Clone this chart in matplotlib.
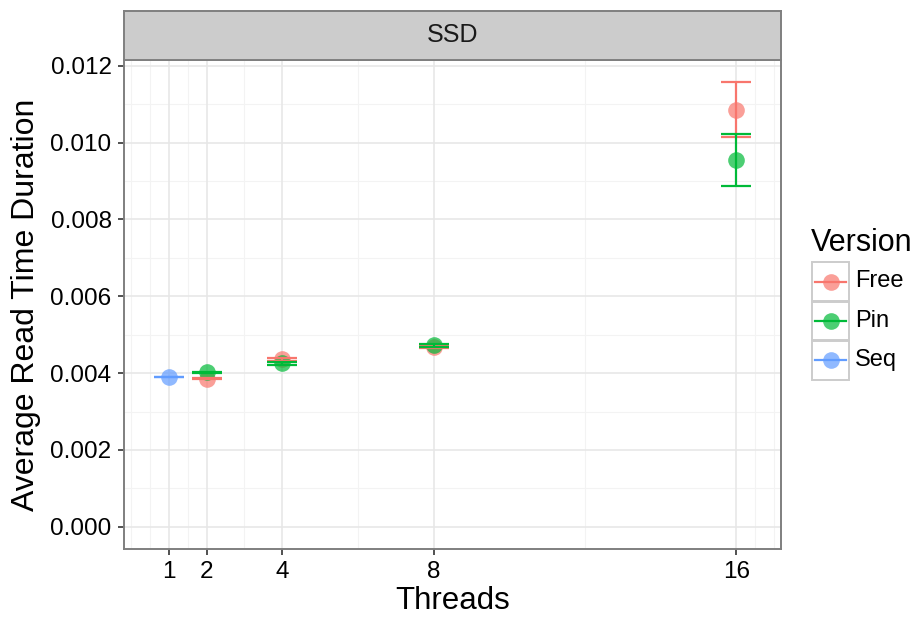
import numpy as np
import matplotlib.pyplot as plt
from matplotlib.patches import Rectangle

plt.rcParams['font.family'] = ['Liberation Sans', 'DejaVu Sans']

versions = ['Free', 'Pin', 'Seq']
colors = {'Free': '#F8766D', 'Pin': '#00BA38', 'Seq': '#619CFF'}

threads = {'Free': [2, 4, 8, 16], 'Pin': [2, 4, 8, 16], 'Seq': [1]}
means = {'Free': [0.00385, 0.00436, 0.00469, 0.01086],
         'Pin': [0.00402, 0.00426, 0.00472, 0.009545],
         'Seq': [0.00390]}
errs = {'Free': [0.00001, 0.00004, 0.00003, 0.00071],
        'Pin': [0.00002, 0.00004, 0.00004, 0.000665],
        'Seq': [0.00001]}

xbreaks = [1, 2, 4, 8, 16]
xminor = [0, 0.5, 1.5, 3, 6, 12, 16.5, 17]
ybreaks = [0, 0.002, 0.004, 0.006, 0.008, 0.010, 0.012]
yminor = [0.001, 0.003, 0.005, 0.007, 0.009, 0.011]
cap_w = 0.79

W, H = 918, 624
fig = plt.figure(figsize=(W / 100, H / 100), dpi=100)
ax = fig.add_axes([124 / W, (H - 549) / H, (781 - 124) / W, (549 - 60) / H])
strip = fig.add_axes([124 / W, (H - 60) / H, (781 - 124) / W, 49 / H])

# limits like ggplot (data + 5% expansion)
xlo, xhi = 1 - cap_w / 2, 16 + cap_w / 2
xpad = (xhi - xlo) * 0.05
ylo = 0
yhi = max(m + e for v in versions for m, e in zip(means[v], errs[v]))
ypad = (yhi - ylo) * 0.05
ax.set_xlim(xlo - xpad, xhi + xpad)
ax.set_ylim(ylo - ypad, yhi + ypad)

for x in xminor:
    ax.axvline(x, color='#F3F3F3', lw=0.8, zorder=0)
for y in yminor:
    ax.axhline(y, color='#F3F3F3', lw=0.8, zorder=0)
for x in xbreaks:
    ax.axvline(x, color='#E6E6E6', lw=1.1, zorder=0.5)
for y in ybreaks:
    ax.axhline(y, color='#E6E6E6', lw=1.1, zorder=0.5)

for v in versions:
    xs = np.array(threads[v], dtype=float)
    ms = np.array(means[v])
    ax.plot(xs, ms, 'o', ms=12, color=colors[v], alpha=0.7, mec='none', zorder=2)
for v in versions:
    xs = np.array(threads[v], dtype=float)
    ms = np.array(means[v])
    es = np.array(errs[v])
    ax.vlines(xs, ms - es, ms + es, color=colors[v], lw=1.6, zorder=3)
    ax.hlines(ms - es, xs - cap_w / 2, xs + cap_w / 2, color=colors[v], lw=1.6, zorder=3)
    ax.hlines(ms + es, xs - cap_w / 2, xs + cap_w / 2, color=colors[v], lw=1.6, zorder=3)

ax.set_xticks(xbreaks)
ax.set_xticklabels([str(x) for x in xbreaks])
ax.set_yticks(ybreaks)
ax.set_yticklabels(['%.3f' % y for y in ybreaks])
ax.tick_params(labelsize=17.5, length=4.5, width=1.2, color='#333333', pad=4.5)
for s in ax.spines.values():
    s.set_color('#7F7F7F')
    s.set_linewidth(1.4)
ax.set_xlabel('Threads', fontsize=22.5, labelpad=2)
ax.set_ylabel('Average Read Time Duration', fontsize=23, labelpad=7)

strip.set_facecolor('#CCCCCC')
strip.set_xticks([])
strip.set_yticks([])
for s in strip.spines.values():
    s.set_color('#7F7F7F')
    s.set_linewidth(1.4)
strip.text(0.5, 0.5, 'SSD', ha='center', va='center', fontsize=18, color='#1A1A1A',
           transform=strip.transAxes)

# legend
lg = fig.add_axes([811 / W, (H - 380) / H, 39 / W, 118 / H])
lg.set_xlim(0, 1)
lg.set_ylim(0, 3)
lg.axis('off')
for i, v in enumerate(versions):
    yc = 2.5 - i
    lg.add_patch(Rectangle((0.03, yc - 0.49), 0.94, 0.98, fill=False,
                           ec='#CCCCCC', lw=1.4, clip_on=False))
    lg.plot([0.1, 0.9], [yc, yc], color=colors[v], lw=1.6)
    lg.plot([0.5], [yc], 'o', ms=12, color=colors[v], alpha=0.7, mec='none')
    fig.text(855 / W, (H - (281.5 + 39.3 * i)) / H, v, fontsize=17,
             va='center', ha='left')
fig.text(811 / W, (H - 243) / H, 'Version', fontsize=22, va='center', ha='left')

fig.savefig('out.png', dpi=100)
